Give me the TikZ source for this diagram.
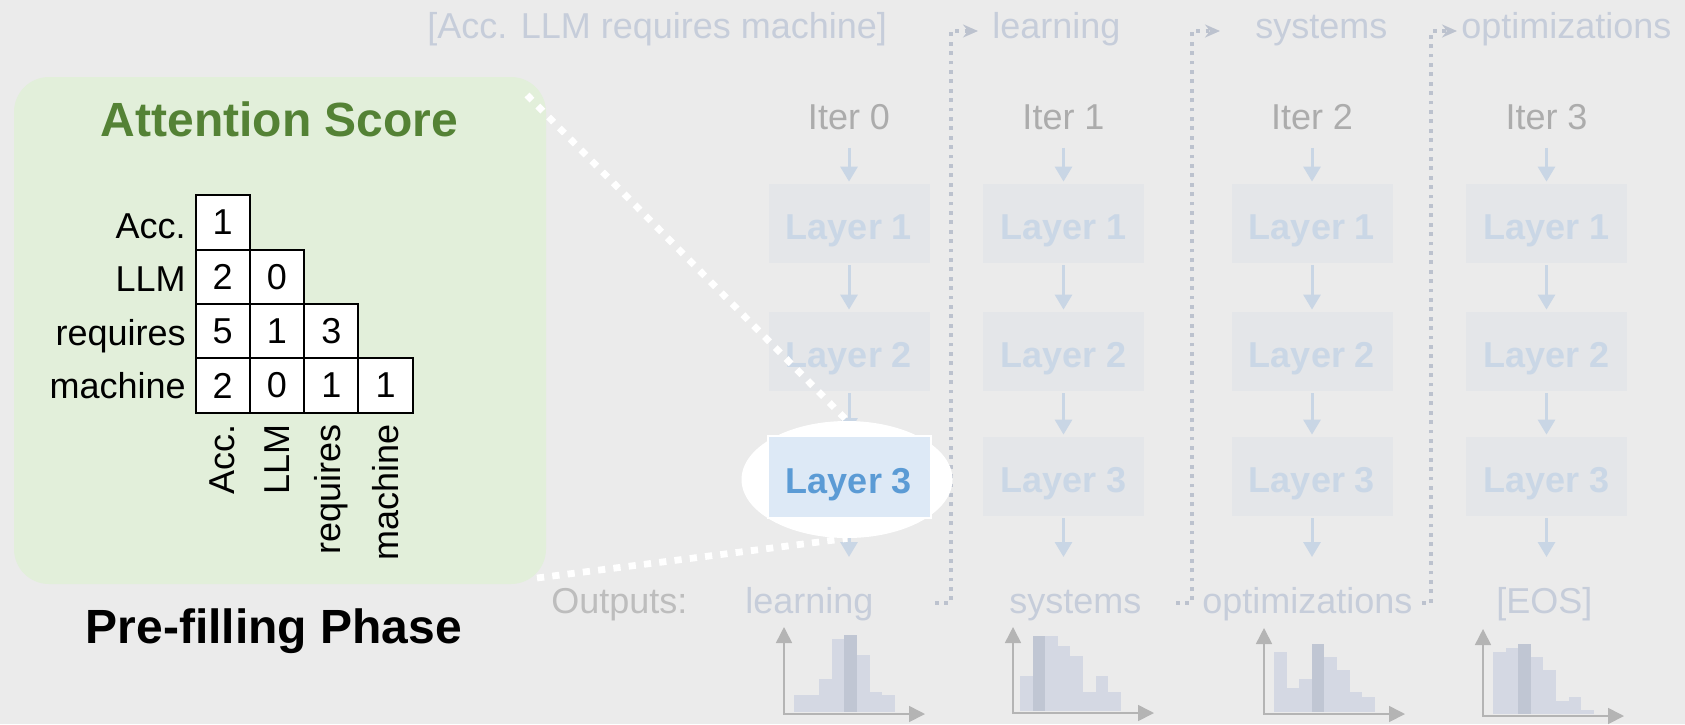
\documentclass[tikz,border=0pt]{standalone}
\usepackage{fontspec}
\setmainfont{Liberation Sans}
\usetikzlibrary{arrows.meta,shapes.geometric}
\definecolor{bgc}{HTML}{EBEBEB}
\definecolor{gboxc}{HTML}{E2EFDA}
\definecolor{gtitle}{HTML}{548235}
\definecolor{wordc}{HTML}{C6CDDA}
\definecolor{iterc}{HTML}{ACACAC}
\definecolor{outc}{HTML}{BDBDBD}
\definecolor{fboxc}{HTML}{E4E6E9}
\definecolor{ftextc}{HTML}{CAD7E6}
\definecolor{arrc}{HTML}{C9D6E5}
\definecolor{hlfill}{HTML}{DDE9F6}
\definecolor{hltext}{HTML}{5B9BD5}
\definecolor{dotc}{HTML}{BCC2CE}
\definecolor{barl}{HTML}{D4D8E3}
\definecolor{bard}{HTML}{C0C6D3}
\definecolor{axc}{HTML}{B4B4B4}
\pgfdeclarelayer{back}\pgfdeclarelayer{front}\pgfdeclarelayer{top}
\pgfsetlayers{back,main,front,top}
\newcommand\fsN{\fontsize{18pt}{21pt}\selectfont}
\newcommand\fsB{\fontsize{24pt}{28pt}\selectfont\bfseries}
\begin{document}
\begin{tikzpicture}[x=0.5pt,y=-0.5pt,
 gbox/.style={fill=gboxc, rounded corners=17.5pt, minimum width=266pt, minimum height=253.5pt, inner sep=0},
 title/.style={font=\fsB, inner sep=0},
 cell/.style={draw=black, line width=1pt, fill=white, minimum size=27.15pt, inner sep=0, font=\fsN},
 lbl/.style={font=\fsN, inner sep=0},
 topw/.style={font=\fsN, text=wordc, inner sep=0, anchor=base west},
 iterl/.style={font=\fsN, text=iterc, inner sep=0, anchor=base},
 layerbox/.style={fill=fboxc, text=ftextc, font=\fsN\bfseries, minimum width=80.5pt, minimum height=39.5pt, text height=16pt, text depth=0pt, inner sep=0},
 hlbox/.style={fill=hlfill, draw=white, line width=1pt, text=hltext, font=\fsN\bfseries, minimum width=81.5pt, minimum height=41pt, text height=16pt, text depth=0pt, inner sep=0},
 flow/.style={draw=arrc, line width=1.5pt, -{Triangle[width=8.5pt,length=7.5pt]}, shorten <=1pt, shorten >=1pt},
 dotconn/.style={draw=dotc, line width=1.9pt, dash pattern=on 1.9pt off 2.8pt, -{Stealth[length=7.5pt,width=6.5pt,inset=2.5pt]}},
 wdots/.style={draw=white, line width=3.4pt, dash pattern=on 3.6pt off 4.1pt},
 axis/.style={draw=axc, line width=0.8pt, {Triangle[width=8pt,length=8pt]}-{Triangle[width=8pt,length=8pt]}},
]
\useasboundingbox (0,0) rectangle (1685,724);
\begin{pgfonlayer}{back}
\fill[bgc] (0,0) rectangle (1685,724);
\end{pgfonlayer}

% highlighted layer (on top)
\begin{pgfonlayer}{top}
\node[ellipse, fill=white, minimum width=105.5pt, minimum height=58.5pt, inner sep=0] (e0) at (847,479.5) {};
\node[hlbox] (L03) at (849,477) {Layer 3};
\end{pgfonlayer}

% left panel
\node[gbox] (gbox) at (280,330.5) {};
\node[title, text=gtitle] (att) at (279.5,119) {Attention Score};
\node[title, anchor=base] (pre) at (274,643) {Pre-filling Phase};

\node[cell] (m11) at (222.7,222.6) {1};
\node[cell] (m21) at (222.7,276.9) {2};
\node[cell] (m22) at (277.0,276.9) {0};
\node[cell] (m31) at (222.7,331.2) {5};
\node[cell] (m32) at (277.0,331.2) {1};
\node[cell] (m33) at (331.3,331.2) {3};
\node[cell] (m41) at (222.7,385.5) {2};
\node[cell] (m42) at (277.0,385.5) {0};
\node[cell] (m43) at (331.3,385.5) {1};
\node[cell] (m44) at (385.6,385.5) {1};

\node[lbl, anchor=base east] (r1) at (186,238) {Acc.};
\node[lbl, anchor=base east] (r2) at (186,291.5) {LLM};
\node[lbl, anchor=base east] (r3) at (186,345) {requires};
\node[lbl, anchor=base east] (r4) at (186,398) {machine};

\node[lbl, rotate=90, anchor=east] (k1) at (222.7,424) {Acc.};
\node[lbl, rotate=90, anchor=east] (k2) at (277.0,424) {LLM};
\node[lbl, rotate=90, anchor=east] (k3) at (331.3,424) {requires};
\node[lbl, rotate=90, anchor=east] (k4) at (385.6,424) {machine};

% top words
\node[topw] (top0) at (427,38) {[Acc. LLM requires machine]};
\node[topw] (top1) at (992,38) {learning};
\node[topw] (top2) at (1255,38) {systems};
\node[topw] (top3) at (1461,38) {optimizations};

% iterations
\node[iterl] (it0) at (849,129) {Iter 0};
\node[iterl] (it1) at (1063.5,129) {Iter 1};
\node[iterl] (it2) at (1312,129) {Iter 2};
\node[iterl] (it3) at (1546.5,129) {Iter 3};

\foreach \c/\x in {0/849,1/1063.5,2/1312,3/1546.5}{
  \node[layerbox] (L\c1) at (\x,223.5) {Layer 1};
  \node[layerbox] (L\c2) at (\x,351.5) {Layer 2};
  \coordinate (o\c) at (\x,557);
}
\foreach \c/\x in {1/1063.5,2/1312,3/1546.5}{
  \node[layerbox] (L\c3) at (\x,476.5) {Layer 3};
}
\foreach \c in {0,1,2,3}{
  \draw[flow, shorten <=9pt] (it\c.south) -- (L\c1.north);
  \draw[flow] (L\c1.south) -- (L\c2.north);
  \draw[flow] (L\c2.south) -- (L\c3.north);
  \draw[flow, shorten >=0pt] (L\c3.south) -- (o\c);
}

% outputs
\node[topw, text=outc] (outs) at (551,613) {Outputs:};
\node[topw] (out0) at (745,613) {learning};
\node[topw] (out1) at (1009,613) {systems};
\node[topw] (out2) at (1202,613) {optimizations};
\node[topw] (out3) at (1496,613) {[EOS]};

% dotted feedback connectors
\coordinate (s0) at (935,603); \coordinate (c0) at (951,31);
\coordinate (s1) at (1176,603); \coordinate (c1) at (1192,31);
\coordinate (s2) at (1422,603); \coordinate (c2) at (1431,31);
\draw[dotconn, shorten >=7pt] (s0) -| (c0) -- (c0 -| top1.west);
\draw[dotconn, shorten >=17.5pt] (s1) -| (c1) -- (c1 -| top2.west);
\draw[dotconn, shorten >=2pt] (s2) -| (c2) -- (c2 -| top3.west);

% histograms
\foreach \t [count=\k from 0] in {695,695,679,639,635,655,692,695}
  \fill[barl] ({794+12.6*\k},712) rectangle ({806.6+12.6*\k},\t);
\fill[bard] ({794+12.6*4},712) rectangle ({806.6+12.6*4},635);
\draw[axis] (784,627) -- (784,714) -- (925,714);

\foreach \t [count=\k from 0] in {676,636,636,646,656,692,676,692}
  \fill[barl] ({1020+12.6*\k},711) rectangle ({1032.6+12.6*\k},\t);
\fill[bard] ({1020+12.6*1},711) rectangle ({1032.6+12.6*1},636);
\draw[axis] (1013,627) -- (1013,713) -- (1154,713);

\foreach \t [count=\k from 0] in {652,688,679,644,657,670,692,697}
  \fill[barl] ({1274+12.6*\k},712) rectangle ({1286.6+12.6*\k},\t);
\fill[bard] ({1274+12.6*3},712) rectangle ({1286.6+12.6*3},644);
\draw[axis] (1264,628) -- (1264,714) -- (1405,714);

\foreach \t [count=\k from 0] in {652,648,644,657,670,701,697,710}
  \fill[barl] ({1493+12.6*\k},714) rectangle ({1505.6+12.6*\k},\t);
\fill[bard] ({1493+12.6*2},714) rectangle ({1505.6+12.6*2},644);
\draw[axis] (1483,629) -- (1483,716) -- (1624,716);

% white zoom lines
\begin{pgfonlayer}{front}
\coordinate (w1) at (527,95);
\coordinate (w2) at (537,578);
\draw[wdots] (w1) -- (e0.north);
\draw[wdots] (w2) -- (e0.south);
\end{pgfonlayer}
\end{tikzpicture}
\end{document}
